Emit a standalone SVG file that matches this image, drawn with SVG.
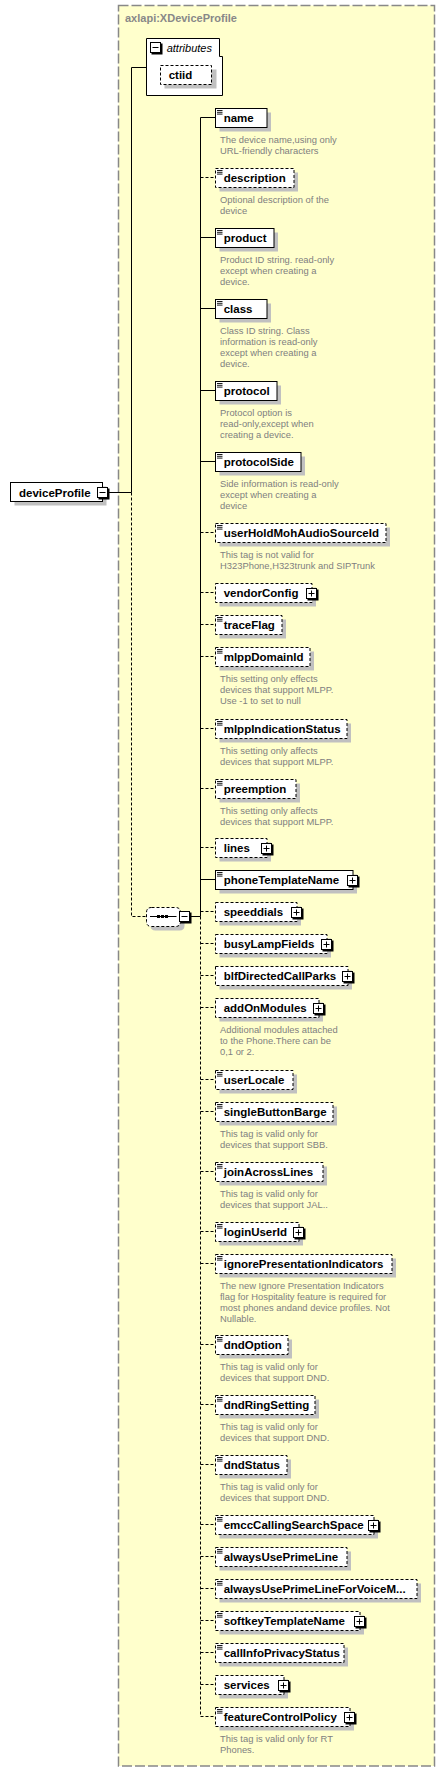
<svg xmlns="http://www.w3.org/2000/svg" width="445" height="1772" viewBox="0 0 445 1772">
<defs>
<style>
.bg{fill:#ffffcc;stroke:#888888;stroke-width:1.5;stroke-dasharray:10,3}
.sh{fill:#c0c0c0}
.bx{fill:#ffffff;stroke:#000000;stroke-width:1}
.opt{stroke-dasharray:3,2}
.ln{fill:none;stroke:#000000;stroke-width:1}
.dl{fill:none;stroke:#000000;stroke-width:1;stroke-dasharray:3,2}
.lbl{font-family:"Liberation Sans",Arial,sans-serif;font-weight:bold;font-size:11.5px;fill:#000000}
.desc{font-family:"Liberation Sans",Arial,sans-serif;font-size:9.4px;fill:#808080}
.ttl{font-family:"Liberation Sans",Arial,sans-serif;font-weight:bold;font-size:11px;fill:#888888}
.ital{font-family:"Liberation Sans",Arial,sans-serif;font-style:italic;font-size:11px;fill:#000000}
.ic{fill:none;stroke:#000000;stroke-width:0.9}
</style>
<g id="ico"><path class="ic" d="M217,2.5H222.5M217,4.3H222.5M217,6.1H222.5"/></g>
<g id="plus"><path d="M11,1V11H1" fill="none" stroke="#000" stroke-width="2"/><rect x="0" y="0" width="10" height="10" class="bx"/><path class="ln" d="M2,5H8M5,2V8"/></g>
<g id="minus"><path d="M11,1V11H1" fill="none" stroke="#000" stroke-width="2"/><rect x="0" y="0" width="10" height="10" class="bx"/><path class="ln" d="M2,5H8"/></g>
</defs>
<rect class="bg" x="118.5" y="5.5" width="316" height="1760.5"/>
<text class="ttl" x="125" y="22">axlapi:XDeviceProfile</text>

<g id="connectors">
<path class="ln" d="M108.5,492.5H131.5M131.5,67.5V492.5M131.5,67.5H146.5"/>
<path class="dl" d="M131.5,492.5V916.5H146.5"/>
<path class="ln" d="M190.5,916.5H200.5M200.5,117.5V916.5"/>
<path class="dl" d="M200.5,916.5V1716.5"/>
<path class="ln" d="M200.5,117.5H215.5M200.5,237.5H215.5M200.5,308.5H215.5M200.5,390.5H215.5M200.5,461.5H215.5M200.5,879.5H215.5"/>
<path class="dl" d="M200.5,177.5H215.5M200.5,532.5H215.5M200.5,592.5H215.5M200.5,624.5H215.5M200.5,656.5H215.5M200.5,728.5H215.5M200.5,788.5H215.5M200.5,847.5H215.5M200.5,911.5H215.5M200.5,943.5H215.5M200.5,975.5H215.5M200.5,1007.5H215.5M200.5,1079.5H215.5M200.5,1111.5H215.5M200.5,1171.5H215.5M200.5,1231.5H215.5M200.5,1263.5H215.5M200.5,1344.5H215.5M200.5,1404.5H215.5M200.5,1464.5H215.5M200.5,1524.5H215.5M200.5,1556.5H215.5M200.5,1588.5H215.5M200.5,1620.5H215.5M200.5,1652.5H215.5M200.5,1684.5H215.5M200.5,1716.5H215.5"/>
</g>

<g id="attributes">
<path class="bx" d="M146.5,38.5H219.5V56.5H222.5V95.5H146.5Z"/>
<use href="#minus" x="150.5" y="42.5"/>
<text class="ital" x="166.7" y="51.7">attributes</text>
</g>
<g id="ctiid">
<rect class="sh" x="164.5" y="69.5" width="52" height="19"/>
<rect class="bx opt" x="160.5" y="65.5" width="51" height="19"/>
<text class="lbl" x="168.7" y="79">ctiid</text>
</g>

<g id="deviceProfile">
<rect class="sh" x="14.5" y="486.5" width="92" height="19"/>
<rect class="bx" x="10.5" y="482.5" width="92" height="19"/>
<text class="lbl" x="19" y="496.5">deviceProfile</text>
<use href="#minus" x="97.5" y="487.5"/>
</g>

<g id="sequence">
<path class="sh" d="M155.5,911.5H179.5Q184.5,911.5 184.5,916.5V925.5Q184.5,930.5 179.5,930.5H155.5Q150.5,930.5 150.5,925.5V916.5Q150.5,911.5 155.5,911.5Z"/>
<path class="bx opt" d="M151.5,907.5H175.5Q180.5,907.5 180.5,912.5V921.5Q180.5,926.5 175.5,926.5H151.5Q146.5,926.5 146.5,921.5V912.5Q146.5,907.5 151.5,907.5Z"/>
<path class="ln" d="M150,916.5H176.5"/>
<rect x="157" y="915" width="3" height="3"/><rect x="161" y="915" width="3" height="3"/><rect x="165" y="915" width="3" height="3"/>
<use href="#minus" x="179.5" y="911.5"/>
</g>

<g id="n-name" transform="translate(0,108)">
<rect class="sh" x="219.5" y="4.5" width="51.5" height="19"/><rect class="bx" x="215.5" y="0.5" width="51.5" height="19"/><use href="#ico"/>
<text class="lbl" x="223.7" y="14">name</text>
<text class="desc" x="220" y="35">The device name,using only</text><text class="desc" x="220" y="46">URL-friendly characters</text>
</g>
<g id="n-description" transform="translate(0,168)">
<rect class="sh" x="219.5" y="4.5" width="78.5" height="19"/><rect class="bx opt" x="215.5" y="0.5" width="78.5" height="19"/><use href="#ico"/>
<text class="lbl" x="223.7" y="14">description</text>
<text class="desc" x="220" y="35">Optional description of the</text><text class="desc" x="220" y="46">device</text>
</g>
<g id="n-product" transform="translate(0,228)">
<rect class="sh" x="219.5" y="4.5" width="58.5" height="19"/><rect class="bx" x="215.5" y="0.5" width="58.5" height="19"/><use href="#ico"/>
<text class="lbl" x="223.7" y="14">product</text>
<text class="desc" x="220" y="35">Product ID string. read-only</text><text class="desc" x="220" y="46">except when creating a</text><text class="desc" x="220" y="57">device.</text>
</g>
<g id="n-class" transform="translate(0,299)">
<rect class="sh" x="219.5" y="4.5" width="51.5" height="19"/><rect class="bx" x="215.5" y="0.5" width="51.5" height="19"/><use href="#ico"/>
<text class="lbl" x="223.7" y="14">class</text>
<text class="desc" x="220" y="35">Class ID string. Class</text><text class="desc" x="220" y="46">information is read-only</text><text class="desc" x="220" y="57">except when creating a</text><text class="desc" x="220" y="68">device.</text>
</g>
<g id="n-protocol" transform="translate(0,381)">
<rect class="sh" x="219.5" y="4.5" width="61.5" height="19"/><rect class="bx" x="215.5" y="0.5" width="61.5" height="19"/><use href="#ico"/>
<text class="lbl" x="223.7" y="14">protocol</text>
<text class="desc" x="220" y="35">Protocol option is</text><text class="desc" x="220" y="46">read-only,except when</text><text class="desc" x="220" y="57">creating a device.</text>
</g>
<g id="n-protocolSide" transform="translate(0,452)">
<rect class="sh" x="219.5" y="4.5" width="85.5" height="19"/><rect class="bx" x="215.5" y="0.5" width="85.5" height="19"/><use href="#ico"/>
<text class="lbl" x="223.7" y="14">protocolSide</text>
<text class="desc" x="220" y="35">Side information is read-only</text><text class="desc" x="220" y="46">except when creating a</text><text class="desc" x="220" y="57">device</text>
</g>
<g id="n-userHoldMohAudioSourceId" transform="translate(0,523)">
<rect class="sh" x="219.5" y="4.5" width="170.5" height="19"/><rect class="bx opt" x="215.5" y="0.5" width="170.5" height="19"/><use href="#ico"/>
<text class="lbl" x="223.7" y="14">userHoldMohAudioSourceId</text>
<text class="desc" x="220" y="35">This tag is not valid for</text><text class="desc" x="220" y="46">H323Phone,H323trunk and SIPTrunk</text>
</g>
<g id="n-vendorConfig" transform="translate(0,583)">
<rect class="sh" x="219.5" y="4.5" width="96.5" height="19"/><rect class="bx opt" x="215.5" y="0.5" width="96.5" height="19"/>
<text class="lbl" x="223.7" y="14">vendorConfig</text>
<use href="#plus" x="306.5" y="5.5"/>
</g>
<g id="n-traceFlag" transform="translate(0,615)">
<rect class="sh" x="219.5" y="4.5" width="66.5" height="19"/><rect class="bx opt" x="215.5" y="0.5" width="66.5" height="19"/><use href="#ico"/>
<text class="lbl" x="223.7" y="14">traceFlag</text>
</g>
<g id="n-mlppDomainId" transform="translate(0,647)">
<rect class="sh" x="219.5" y="4.5" width="94.5" height="19"/><rect class="bx opt" x="215.5" y="0.5" width="94.5" height="19"/><use href="#ico"/>
<text class="lbl" x="223.7" y="14">mlppDomainId</text>
<text class="desc" x="220" y="35">This setting only effects</text><text class="desc" x="220" y="46">devices that support MLPP.</text><text class="desc" x="220" y="57">Use -1 to set to null</text>
</g>
<g id="n-mlppIndicationStatus" transform="translate(0,719)">
<rect class="sh" x="219.5" y="4.5" width="131.5" height="19"/><rect class="bx opt" x="215.5" y="0.5" width="131.5" height="19"/><use href="#ico"/>
<text class="lbl" x="223.7" y="14">mlppIndicationStatus</text>
<text class="desc" x="220" y="35">This setting only affects</text><text class="desc" x="220" y="46">devices that support MLPP.</text>
</g>
<g id="n-preemption" transform="translate(0,779)">
<rect class="sh" x="219.5" y="4.5" width="80.5" height="19"/><rect class="bx opt" x="215.5" y="0.5" width="80.5" height="19"/><use href="#ico"/>
<text class="lbl" x="223.7" y="14">preemption</text>
<text class="desc" x="220" y="35">This setting only affects</text><text class="desc" x="220" y="46">devices that support MLPP.</text>
</g>
<g id="n-lines" transform="translate(0,838)">
<rect class="sh" x="219.5" y="4.5" width="51.5" height="19"/><rect class="bx opt" x="215.5" y="0.5" width="51.5" height="19"/>
<text class="lbl" x="223.7" y="14">lines</text>
<use href="#plus" x="261.5" y="5.5"/>
</g>
<g id="n-phoneTemplateName" transform="translate(0,870)">
<rect class="sh" x="219.5" y="4.5" width="137.5" height="19"/><rect class="bx" x="215.5" y="0.5" width="137.5" height="19"/><use href="#ico"/>
<text class="lbl" x="223.7" y="14">phoneTemplateName</text>
<use href="#plus" x="347.5" y="5.5"/>
</g>
<g id="n-speeddials" transform="translate(0,902)">
<rect class="sh" x="219.5" y="4.5" width="81.5" height="19"/><rect class="bx opt" x="215.5" y="0.5" width="81.5" height="19"/>
<text class="lbl" x="223.7" y="14">speeddials</text>
<use href="#plus" x="291.5" y="5.5"/>
</g>
<g id="n-busyLampFields" transform="translate(0,934)">
<rect class="sh" x="219.5" y="4.5" width="111.5" height="19"/><rect class="bx opt" x="215.5" y="0.5" width="111.5" height="19"/>
<text class="lbl" x="223.7" y="14">busyLampFields</text>
<use href="#plus" x="321.5" y="5.5"/>
</g>
<g id="n-blfDirectedCallParks" transform="translate(0,966)">
<rect class="sh" x="219.5" y="4.5" width="132.5" height="19"/><rect class="bx opt" x="215.5" y="0.5" width="132.5" height="19"/>
<text class="lbl" x="223.7" y="14">blfDirectedCallParks</text>
<use href="#plus" x="342.5" y="5.5"/>
</g>
<g id="n-addOnModules" transform="translate(0,998)">
<rect class="sh" x="219.5" y="4.5" width="103.5" height="19"/><rect class="bx opt" x="215.5" y="0.5" width="103.5" height="19"/>
<text class="lbl" x="223.7" y="14">addOnModules</text>
<use href="#plus" x="313.5" y="5.5"/>
<text class="desc" x="220" y="35">Additional modules attached</text><text class="desc" x="220" y="46">to the Phone.There can be</text><text class="desc" x="220" y="57">0,1 or 2.</text>
</g>
<g id="n-userLocale" transform="translate(0,1070)">
<rect class="sh" x="219.5" y="4.5" width="77.5" height="19"/><rect class="bx opt" x="215.5" y="0.5" width="77.5" height="19"/><use href="#ico"/>
<text class="lbl" x="223.7" y="14">userLocale</text>
</g>
<g id="n-singleButtonBarge" transform="translate(0,1102)">
<rect class="sh" x="219.5" y="4.5" width="117.5" height="19"/><rect class="bx opt" x="215.5" y="0.5" width="117.5" height="19"/><use href="#ico"/>
<text class="lbl" x="223.7" y="14">singleButtonBarge</text>
<text class="desc" x="220" y="35">This tag is valid only for</text><text class="desc" x="220" y="46">devices that support SBB.</text>
</g>
<g id="n-joinAcrossLines" transform="translate(0,1162)">
<rect class="sh" x="219.5" y="4.5" width="107.5" height="19"/><rect class="bx opt" x="215.5" y="0.5" width="107.5" height="19"/><use href="#ico"/>
<text class="lbl" x="223.7" y="14">joinAcrossLines</text>
<text class="desc" x="220" y="35">This tag is valid only for</text><text class="desc" x="220" y="46">devices that support JAL..</text>
</g>
<g id="n-loginUserId" transform="translate(0,1222)">
<rect class="sh" x="219.5" y="4.5" width="83.5" height="19"/><rect class="bx opt" x="215.5" y="0.5" width="83.5" height="19"/><use href="#ico"/>
<text class="lbl" x="223.7" y="14">loginUserId</text>
<use href="#plus" x="293.5" y="5.5"/>
</g>
<g id="n-ignorePresentationIndicators" transform="translate(0,1254)">
<rect class="sh" x="219.5" y="4.5" width="176.5" height="19"/><rect class="bx opt" x="215.5" y="0.5" width="176.5" height="19"/><use href="#ico"/>
<text class="lbl" x="223.7" y="14">ignorePresentationIndicators</text>
<text class="desc" x="220" y="35">The new Ignore Presentation Indicators</text><text class="desc" x="220" y="46">flag for Hospitality feature is required for</text><text class="desc" x="220" y="57">most phones andand device profiles. Not</text><text class="desc" x="220" y="68">Nullable.</text>
</g>
<g id="n-dndOption" transform="translate(0,1335)">
<rect class="sh" x="219.5" y="4.5" width="72.5" height="19"/><rect class="bx opt" x="215.5" y="0.5" width="72.5" height="19"/><use href="#ico"/>
<text class="lbl" x="223.7" y="14">dndOption</text>
<text class="desc" x="220" y="35">This tag is valid only for</text><text class="desc" x="220" y="46">devices that support DND.</text>
</g>
<g id="n-dndRingSetting" transform="translate(0,1395)">
<rect class="sh" x="219.5" y="4.5" width="99.5" height="19"/><rect class="bx opt" x="215.5" y="0.5" width="99.5" height="19"/><use href="#ico"/>
<text class="lbl" x="223.7" y="14">dndRingSetting</text>
<text class="desc" x="220" y="35">This tag is valid only for</text><text class="desc" x="220" y="46">devices that support DND.</text>
</g>
<g id="n-dndStatus" transform="translate(0,1455)">
<rect class="sh" x="219.5" y="4.5" width="71.5" height="19"/><rect class="bx opt" x="215.5" y="0.5" width="71.5" height="19"/><use href="#ico"/>
<text class="lbl" x="223.7" y="14">dndStatus</text>
<text class="desc" x="220" y="35">This tag is valid only for</text><text class="desc" x="220" y="46">devices that support DND.</text>
</g>
<g id="n-emccCallingSearchSpace" transform="translate(0,1515)">
<rect class="sh" x="219.5" y="4.5" width="158.5" height="19"/><rect class="bx opt" x="215.5" y="0.5" width="158.5" height="19"/><use href="#ico"/>
<text class="lbl" x="223.7" y="14">emccCallingSearchSpace</text>
<use href="#plus" x="368.5" y="5.5"/>
</g>
<g id="n-alwaysUsePrimeLine" transform="translate(0,1547)">
<rect class="sh" x="219.5" y="4.5" width="131.5" height="19"/><rect class="bx opt" x="215.5" y="0.5" width="131.5" height="19"/><use href="#ico"/>
<text class="lbl" x="223.7" y="14">alwaysUsePrimeLine</text>
</g>
<g id="n-alwaysUsePrimeLineForVoiceMessage" transform="translate(0,1579)">
<rect class="sh" x="219.5" y="4.5" width="201.5" height="19"/><rect class="bx opt" x="215.5" y="0.5" width="201.5" height="19"/><use href="#ico"/>
<text class="lbl" x="223.7" y="14">alwaysUsePrimeLineForVoiceM...</text>
</g>
<g id="n-softkeyTemplateName" transform="translate(0,1611)">
<rect class="sh" x="219.5" y="4.5" width="144.5" height="19"/><rect class="bx opt" x="215.5" y="0.5" width="144.5" height="19"/><use href="#ico"/>
<text class="lbl" x="223.7" y="14">softkeyTemplateName</text>
<use href="#plus" x="354.5" y="5.5"/>
</g>
<g id="n-callInfoPrivacyStatus" transform="translate(0,1643)">
<rect class="sh" x="219.5" y="4.5" width="128.5" height="19"/><rect class="bx opt" x="215.5" y="0.5" width="128.5" height="19"/><use href="#ico"/>
<text class="lbl" x="223.7" y="14">callInfoPrivacyStatus</text>
</g>
<g id="n-services" transform="translate(0,1675)">
<rect class="sh" x="219.5" y="4.5" width="68.5" height="19"/><rect class="bx opt" x="215.5" y="0.5" width="68.5" height="19"/>
<text class="lbl" x="223.7" y="14">services</text>
<use href="#plus" x="278.5" y="5.5"/>
</g>
<g id="n-featureControlPolicy" transform="translate(0,1707)">
<rect class="sh" x="219.5" y="4.5" width="134.5" height="19"/><rect class="bx opt" x="215.5" y="0.5" width="134.5" height="19"/><use href="#ico"/>
<text class="lbl" x="223.7" y="14">featureControlPolicy</text>
<use href="#plus" x="344.5" y="5.5"/>
<text class="desc" x="220" y="35">This tag is valid only for RT</text><text class="desc" x="220" y="46">Phones.</text>
</g>
</svg>
